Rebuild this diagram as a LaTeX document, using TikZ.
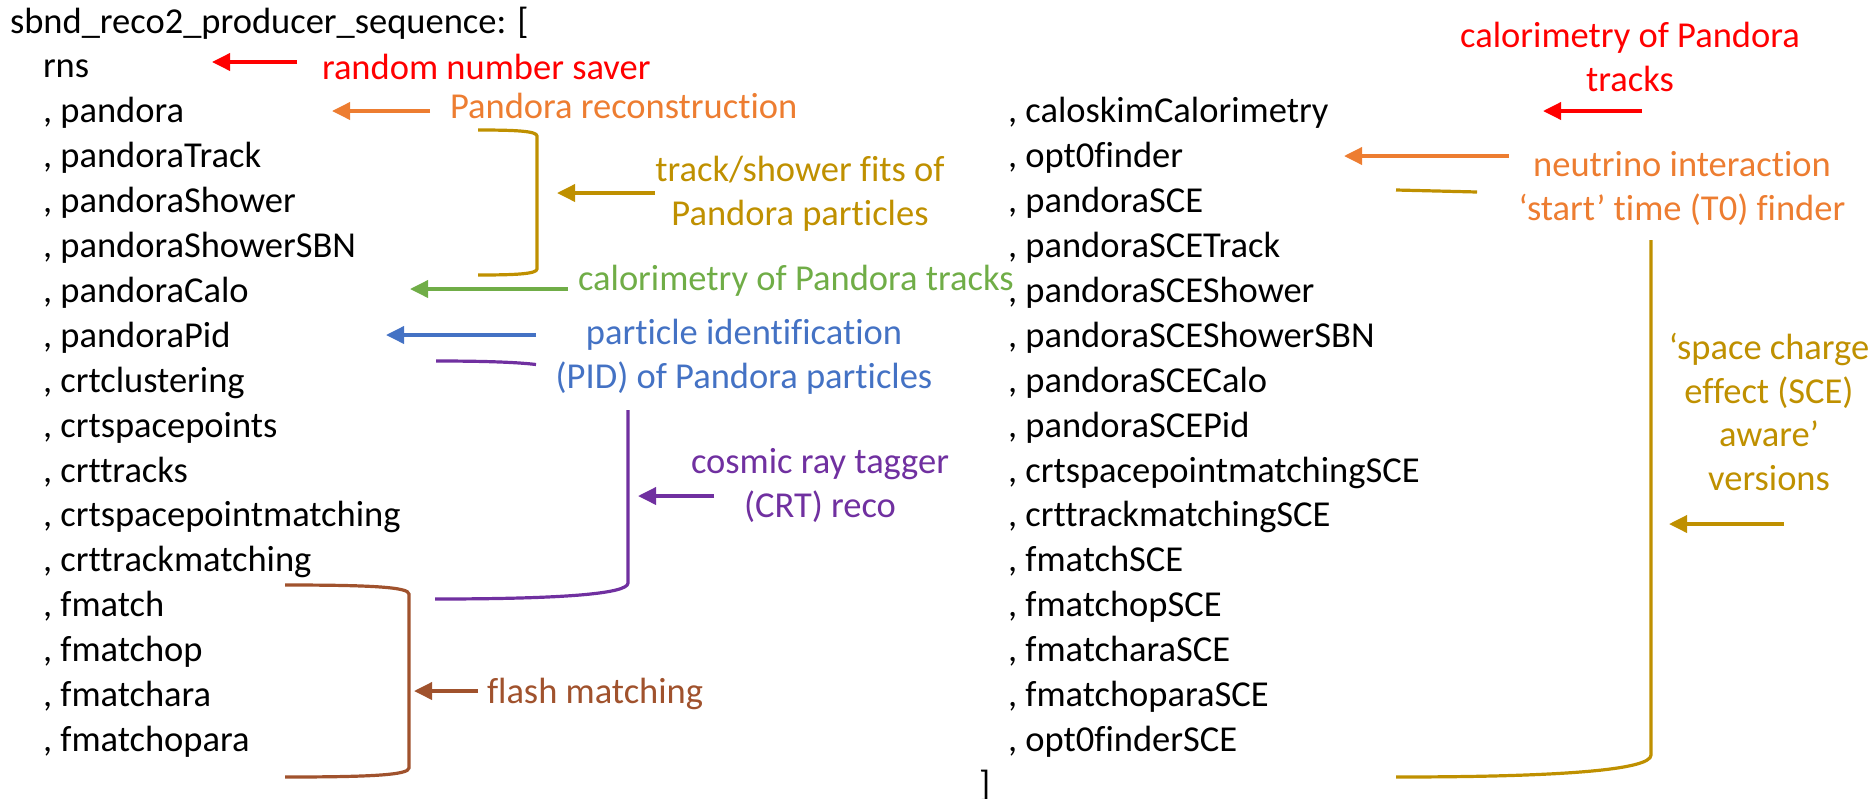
\documentclass[tikz,border=0pt]{standalone}
\usepackage{fontspec}
\setmainfont{Carlito}[Ligatures={NoCommon}]
\usetikzlibrary{arrows.meta}
\definecolor{cRed}{HTML}{FF0000}
\definecolor{cOrange}{HTML}{ED7D31}
\definecolor{cGold}{HTML}{BF9000}
\definecolor{cGreen}{HTML}{70AD47}
\definecolor{cBlue}{HTML}{4472C4}
\definecolor{cPurple}{HTML}{7030A0}
\definecolor{cBrown}{HTML}{A0522D}
\begin{document}
\begin{tikzpicture}[x=0.5bp,y=-0.5bp,
  every node/.style={font=\fontsize{18.25bp}{21.75bp}\selectfont, inner sep=0pt, outer sep=0pt},
  item/.style={anchor=base west},
  lbl/.style={anchor=base, align=center},
  arr/.style={line width=1.8bp, -{Triangle[length=9bp,width=8.5bp]}},
  brk/.style={line width=1.6bp},
]
\useasboundingbox (0,0) rectangle (1874,798);

% ---------- left column ----------
\node[item] (title) at (10,33)    {sbnd\_reco2\_producer\_sequence: [};
\node[item] (rns)   at (43,77.9)  {rns};
\node[item] (pandora) at (43,122.8) {, pandora};
\node[item] (pTrack)  at (43,167.7) {, pandoraTrack};
\node[item] (pShower) at (43,212.6) {, pandoraShower};
\node[item] (pShowerSBN) at (43,257.5) {, pandoraShowerSBN};
\node[item] (pCalo)  at (43,302.4) {, pandoraCalo};
\node[item] (pPid)   at (43,347.3) {, pandoraPid};
\node[item] (crtcl)  at (43,392.2) {, crtclustering};
\node[item] (crtsp)  at (43,437.1) {, crtspacepoints};
\node[item] (crttr)  at (43,482.0) {, crttracks};
\node[item] (crtspm) at (43,526.9) {, crtspacepointmatching};
\node[item] (crttrm) at (43,571.8) {, crttrackmatching};
\node[item] (fm)     at (43,616.7) {, fmatch};
\node[item] (fmop)   at (43,661.6) {, fmatchop};
\node[item] (fmara)  at (43,706.5) {, fmatchara};
\node[item] (fmopara) at (43,751.4) {, fmatchopara};

% ---------- right column ----------
\node[item] (calo)   at (1008,122.8) {, caloskimCalorimetry};
\node[item] (opt)    at (1008,167.7) {, opt0finder};
\node[item] (pS)     at (1008,212.6) {, pandoraSCE};
\node[item] (pSTrack) at (1008,257.5) {, pandoraSCETrack};
\node[item] (pSShower) at (1008,302.4) {, pandoraSCEShower};
\node[item] (pSShowerSBN) at (1008,347.3) {, pandoraSCEShowerSBN};
\node[item] (pSCalo) at (1008,392.2) {, pandoraSCECalo};
\node[item] (pSPid)  at (1008,437.1) {, pandoraSCEPid};
\node[item] (crtspmS) at (1008,482.0) {, crtspacepointmatchingSCE};
\node[item] (crttrmS) at (1008,526.9) {, crttrackmatchingSCE};
\node[item] (fmS)    at (1008,571.8) {, fmatchSCE};
\node[item] (fmopS)  at (1008,616.7) {, fmatchopSCE};
\node[item] (fmaraS) at (1008,661.6) {, fmatcharaSCE};
\node[item] (fmoparaS) at (1008,706.5) {, fmatchoparaSCE};
\node[item] (optS)   at (1008,751.4) {, opt0finderSCE};
\node[item] (close)  at (979,796.3)  {]};

% ---------- labels (multi-line: anchor = baseline of last line) ----------
\node[item, text=cRed]    (Lrns)  at (322,79)  {random number saver};
\node[item, text=cOrange] (Lpan)  at (450,118) {Pandora reconstruction};
\node[lbl, text=cGold]    (Lfit)  at (800,225) {track/shower fits of\\Pandora particles};
\node[item, text=cGreen]  (Lcalo) at (578,290) {calorimetry of Pandora tracks};
\node[lbl, text=cBlue]    (Lpid)  at (744,388) {particle identification\\(PID) of Pandora particles};
\node[lbl, text=cPurple]  (Lcrt)  at (820,517) {cosmic ray tagger\\(CRT) reco};
\node[item, text=cBrown]  (Lfm)   at (487,703) {flash matching};
\node[lbl, text=cRed]     (Lcal2) at (1630,91) {calorimetry of Pandora\\tracks};
\node[lbl, text=cOrange]  (Lt0)   at (1682,220) {neutrino interaction\\‘start’ time (T0) finder};
\node[lbl, text=cGold]    (Lsce)  at (1769,490) {‘space charge\\effect (SCE)\\aware’\\versions};

% ---------- brackets ----------
\draw[brk, cGold] (478,130) .. controls (515,130) and (537,131) .. (537,136)
   -- (537,269) .. controls (537,274) and (515,275) .. (478,275);
\draw[brk, cPurple] (436,361) .. controls (480,361) and (515,362) .. (536,364.5);
\draw[brk, cPurple] (628,410) -- (628,583) .. controls (628,594) and (560,599) .. (435,599);
\draw[brk, cBrown] (285,585) .. controls (370,585) and (409,587) .. (409,594)
   -- (409,768) .. controls (409,775) and (370,777) .. (285,777);
\draw[brk, cGold] (1396,190) -- (1477,192);
\draw[brk, cGold] (1651,240) -- (1651,755) .. controls (1651,770) and (1560,777) .. (1396,777);

% ---------- arrow end points ----------
\coordinate (a1s) at (297,62);   \coordinate (a1e) at (212,62);
\coordinate (a2s) at (430,111);  \coordinate (a2e) at (332,111);
\coordinate (a3s) at (655,193);  \coordinate (a3e) at (557,193);
\coordinate (a4s) at (568,289);  \coordinate (a4e) at (410,289);
\coordinate (a5s) at (536,335);  \coordinate (a5e) at (386,335);
\coordinate (a6s) at (714,496);  \coordinate (a6e) at (638,496);
\coordinate (a7s) at (478,691);  \coordinate (a7e) at (414,691);
\coordinate (a8s) at (1642,111); \coordinate (a8e) at (1543,111);
\coordinate (a9s) at (1509,156); \coordinate (a9e) at (1344,156);
\coordinate (a10s) at (1784,524); \coordinate (a10e) at (1669,524);

\draw[arr, cRed]    (a1s) -- (a1e);
\draw[arr, cOrange] (a2s) -- (a2e);
\draw[arr, cGold]   (a3s) -- (a3e);
\draw[arr, cGreen]  (a4s) -- (a4e);
\draw[arr, cBlue]   (a5s) -- (a5e);
\draw[arr, cPurple] (a6s) -- (a6e);
\draw[arr, cBrown]  (a7s) -- (a7e);
\draw[arr, cRed]    (a8s) -- (a8e);
\draw[arr, cOrange] (a9s) -- (a9e);
\draw[arr, cGold]   (a10s) -- (a10e);
\end{tikzpicture}
\end{document}
